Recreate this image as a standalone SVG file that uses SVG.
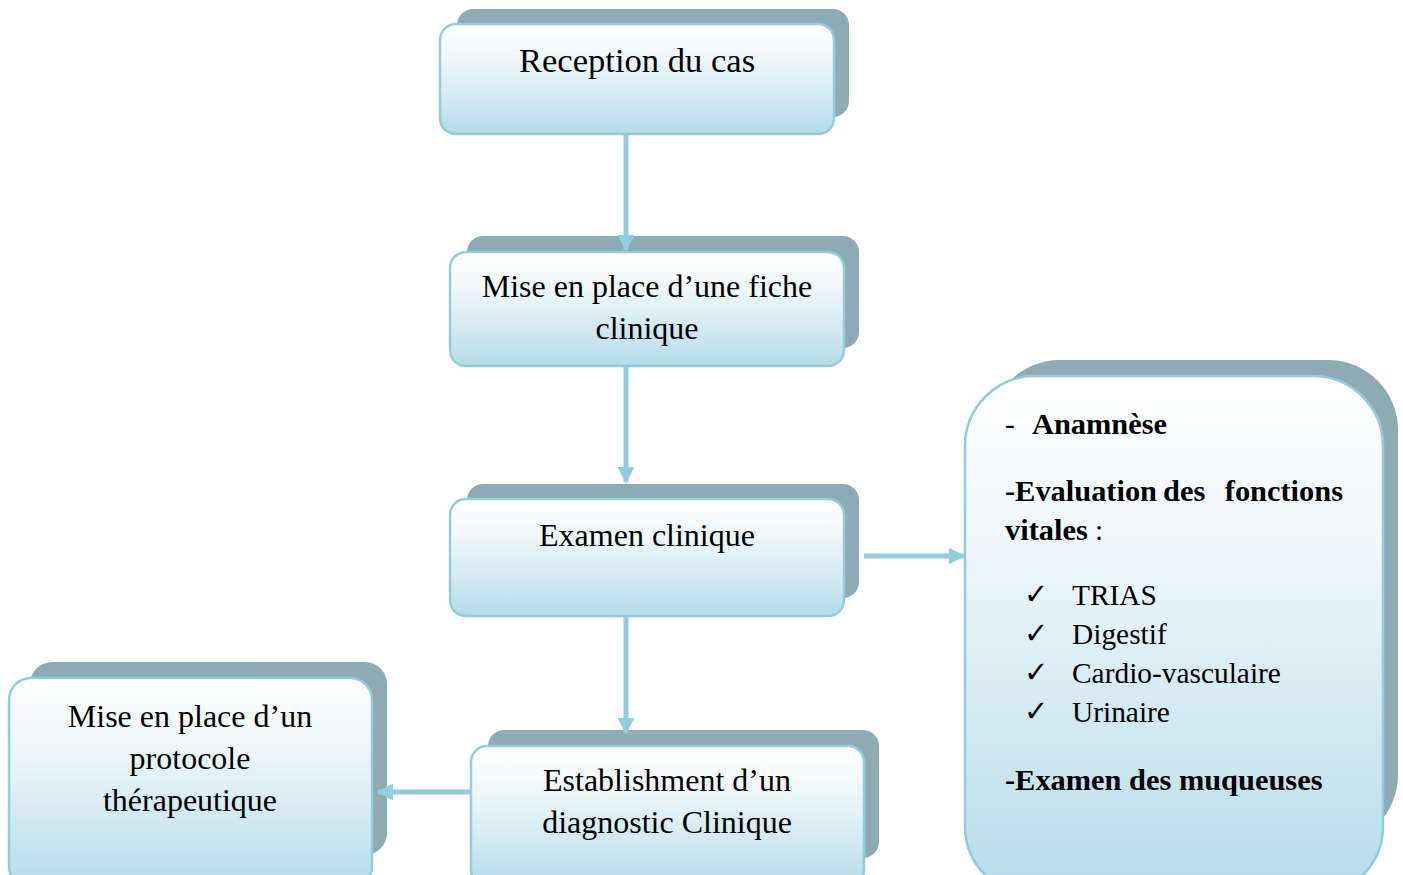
<svg xmlns="http://www.w3.org/2000/svg" width="1403" height="875" viewBox="0 0 1403 875">
<defs>
<linearGradient id="g" x1="0" y1="0" x2="0" y2="1">
<stop offset="0" stop-color="#ffffff"/>
<stop offset="0.3" stop-color="#f1f8fa"/>
<stop offset="1" stop-color="#b4dce6"/>
</linearGradient>
<marker id="ah" viewBox="0 0 10 10" refX="9" refY="5" markerWidth="3.4" markerHeight="3.4" orient="auto" markerUnits="strokeWidth">
<path d="M0,0 L10,5 L0,10 z" fill="#92cddc"/>
</marker>
<style>
.sh{fill:#8eaab2}
.bx{fill:url(#g);stroke:#92cddc;stroke-width:2.5}
.t{font-family:"Liberation Serif","Times New Roman",serif;font-size:32px;fill:#000;text-anchor:middle}
.r{font-family:"Liberation Serif","Times New Roman",serif;font-size:29.4px;fill:#000}
.b{font-weight:bold;font-size:30.4px}
.c{fill:none;stroke:#92cddc;stroke-width:5}
</style>
</defs>
<g id="n1">
<rect class="sh" x="457" y="9" width="392" height="108" rx="16"/>
<rect class="bx" x="440" y="24" width="394" height="110" rx="16"/>
<text class="t" x="637" y="72" style="font-size:34.6px">Reception du cas</text>
</g>
<g id="n2">
<rect class="sh" x="467" y="236" width="392" height="112" rx="16"/>
<rect class="bx" x="450" y="252" width="394" height="114" rx="16"/>
<text class="t" x="647" y="297">Mise en place d’une fiche</text>
<text class="t" x="647" y="339">clinique</text>
</g>
<g id="n3">
<rect class="sh" x="467" y="484" width="392" height="114" rx="16"/>
<rect class="bx" x="450" y="499" width="394" height="117" rx="16"/>
<text class="t" x="647" y="546">Examen clinique</text>
</g>
<g id="n4">
<rect class="sh" x="488" y="730" width="391" height="128" rx="16"/>
<rect class="bx" x="471" y="746" width="393" height="140" rx="16"/>
<text class="t" x="667" y="791">Establishment d’un</text>
<text class="t" x="667" y="833">diagnostic Clinique</text>
</g>
<g id="n5">
<rect class="sh" x="30" y="662" width="357" height="193" rx="22"/>
<rect class="bx" x="9" y="678" width="363" height="210" rx="22"/>
<text class="t" x="190" y="727">Mise en place d’un</text>
<text class="t" x="190" y="769">protocole</text>
<text class="t" x="190" y="811">thérapeutique</text>
</g>
<g id="n6">
<rect class="sh" x="990" y="360" width="408" height="485" rx="70"/>
<rect class="bx" x="965" y="376" width="418" height="520" rx="70"/>
<text class="r" x="1005" y="434">-<tspan class="b" x="1032">Anamnèse</tspan></text>
<text class="r b" x="1005" y="501">-Evaluation</text>
<text class="r b" x="1163" y="501">des</text>
<text class="r b" x="1343" y="501" text-anchor="end">fonctions</text>
<text class="r" x="1005" y="540"><tspan class="b">vitales</tspan> :</text>
<text class="r" x="1024" y="604">✓</text>
<text class="r" x="1072" y="605">TRIAS</text>
<text class="r" x="1024" y="643">✓</text>
<text class="r" x="1072" y="644">Digestif</text>
<text class="r" x="1024" y="682">✓</text>
<text class="r" x="1072" y="683">Cardio-vasculaire</text>
<text class="r" x="1024" y="721">✓</text>
<text class="r" x="1072" y="722">Urinaire</text>
<text class="r b" x="1005" y="790">-Examen des muqueuses</text>
</g>
<g id="connectors">
<line class="c" x1="626" y1="134" x2="626" y2="250" marker-end="url(#ah)"/>
<line class="c" x1="626" y1="366" x2="626" y2="482" marker-end="url(#ah)"/>
<line class="c" x1="626" y1="617" x2="626" y2="733" marker-end="url(#ah)"/>
<line class="c" x1="864" y1="556" x2="964" y2="556" marker-end="url(#ah)"/>
<line class="c" x1="470" y1="792" x2="378" y2="792" marker-end="url(#ah)"/>
</g>
</svg>
